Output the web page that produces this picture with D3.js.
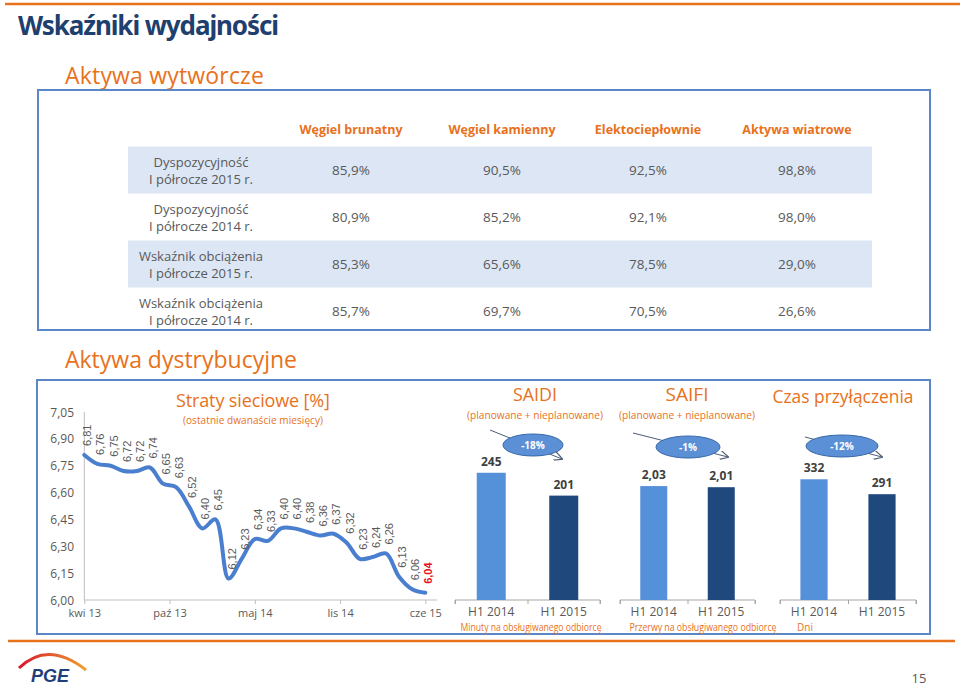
<!DOCTYPE html>
<html><head><meta charset="utf-8">
<script src="https://cdn.jsdelivr.net/npm/d3@7/dist/d3.min.js"></script>
<style>
body{margin:0;background:#fff;}
svg{display:block;font-family:"Open Sans","Noto Sans",sans-serif;}
</style></head>
<body>
<svg id="c" width="960" height="688"></svg>
<script>
// ---------- data ----------
const tableColumns = ["Węgiel brunatny","Węgiel kamienny","Elektociepłownie","Aktywa wiatrowe"];
const tableRowLabels = [
  ["Dyspozycyjność","I półrocze 2015 r."],
  ["Dyspozycyjność","I półrocze 2014 r."],
  ["Wskaźnik obciążenia","I półrocze 2015 r."],
  ["Wskaźnik obciążenia","I półrocze 2014 r."]
];
const availability2015 = ["85,9%","90,5%","92,5%","98,8%"];
const availability2014 = ["80,9%","85,2%","92,1%","98,0%"];
const loadFactor2015   = ["85,3%","65,6%","78,5%","29,0%"];
const loadFactor2014   = ["85,7%","69,7%","70,5%","26,6%"];

const lossValues = [6.81,6.76,6.75,6.72,6.72,6.74,6.65,6.63,6.52,6.40,6.45,6.12,6.23,6.34,6.33,6.40,6.40,6.38,6.36,6.37,6.32,6.23,6.24,6.26,6.13,6.06,6.04];
const lossTickIndex = [0,6.5,13,19.5,26];
const lossTickLabels = ["kwi 13","paź 13","maj 14","lis 14","cze 15"];
const lossYTicks = [6.00,6.15,6.30,6.45,6.60,6.75,6.90,7.05];

const periods = ["H1 2014","H1 2015"];
const saidiValues = [245,201];
const saifiValues = [2.03,2.01];
const czasValues = [332,291];
const changes = ["-18%","-1%","-12%"];

// ---------- helpers ----------
const svg = d3.select("#c");
const ORANGE = "#e8711c", BLUE_T = "#1f3f6e", GREY = "#595959", FRAME = "#5b87c6";
const fmt = v => d3.format(".2f")(v).replace(".", ",");

svg.append("line").attr("x1",5).attr("x2",960).attr("y1",4).attr("y2",4).attr("stroke",ORANGE).attr("stroke-width",2.5);
svg.append("line").attr("x1",8).attr("x2",955).attr("y1",641).attr("y2",641).attr("stroke",ORANGE).attr("stroke-width",2.5);

svg.append("text").attr("x",18).attr("y",35).text("Wskaźniki wydajności")
  .attr("font-size",26).attr("font-weight",700).attr("fill",BLUE_T).attr("font-family","'Noto Sans',sans-serif").attr("textLength",261);
svg.append("text").attr("x",65).attr("y",84).text("Aktywa wytwórcze").attr("font-size",23).attr("fill",ORANGE).attr("textLength",199);
svg.append("text").attr("x",65).attr("y",368).text("Aktywa dystrybucyjne").attr("font-size",23).attr("fill",ORANGE).attr("textLength",232);

// ---------- table ----------
svg.append("rect").attr("x",38).attr("y",90).attr("width",892).attr("height",240).attr("fill","none").attr("stroke",FRAME).attr("stroke-width",2);
const colX = [351,502,648,797];
const rowY = [170,217,264,311];
const rowData = [availability2015, availability2014, loadFactor2015, loadFactor2014];
svg.selectAll(".hdr").data(tableColumns).join("text")
  .attr("x",(d,i)=>colX[i]).attr("y",134).attr("text-anchor","middle")
  .attr("font-size",12.5).attr("font-weight",700).attr("fill",ORANGE).text(d=>d);
rowData.forEach((vals,r)=>{
  if(r%2===0) svg.append("rect").attr("x",128).attr("y",rowY[r]-23.5).attr("width",744).attr("height",47).attr("fill","#dce6f4");
  const lab = svg.append("text").attr("text-anchor","middle").attr("font-size",13).attr("fill",GREY);
  lab.append("tspan").attr("x",201).attr("y",rowY[r]-3).text(tableRowLabels[r][0]);
  lab.append("tspan").attr("x",201).attr("y",rowY[r]+14).text(tableRowLabels[r][1]);
  svg.selectAll(null).data(vals).join("text")
    .attr("x",(d,i)=>colX[i]).attr("y",rowY[r]+5).attr("text-anchor","middle")
    .attr("font-size",13.5).attr("fill",GREY).text(d=>d);
});

// ---------- distribution panel ----------
svg.append("rect").attr("x",37).attr("y",380).attr("width",893).attr("height",254).attr("fill","none").attr("stroke",FRAME).attr("stroke-width",2);

const x = d3.scaleLinear().domain([0,26]).range([84.3,425.3]);
const y = d3.scaleLinear().domain([6.0,7.05]).range([600,412]);
const gL = svg.append("g");
gL.append("line").attr("x1",84.3).attr("x2",84.3).attr("y1",412).attr("y2",600).attr("stroke","#bfbfbf");
gL.append("g").attr("transform","translate(0,600)")
  .call(d3.axisBottom(x).tickValues(lossTickIndex).tickFormat((d,i)=>lossTickLabels[i]).tickSize(4).tickSizeOuter(0))
  .call(g=>{g.select(".domain").attr("stroke","#bfbfbf").attr("d","M84.3,0H437");
    g.selectAll(".tick line").attr("stroke","#bfbfbf");
    g.selectAll(".tick text").attr("font-size",11).attr("fill",GREY).attr("y",9).attr("dy","0.71em").attr("font-family","'Open Sans',sans-serif");});
gL.selectAll(".yl").data(lossYTicks).join("text")
  .attr("x",74).attr("y",d=>y(d)+4.5).attr("text-anchor","end").attr("font-size",12).attr("fill",GREY).text(fmt);
gL.append("path").datum(lossValues)
  .attr("d",d3.line().x((d,i)=>x(i)).y(d=>y(d)).curve(d3.curveCatmullRom.alpha(0.5)))
  .attr("fill","none").attr("stroke","#4a7fcf").attr("stroke-width",4).attr("stroke-linecap","round");
gL.selectAll(".dl").data(lossValues).join("text")
  .attr("transform",(d,i)=>`translate(${x(i)+7},${y(d)-9}) rotate(-90)`)
  .attr("font-size",11).attr("fill",(d,i)=>i===lossValues.length-1?"#e8101e":GREY)
  .attr("font-weight",(d,i)=>i===lossValues.length-1?700:400)
  .attr("font-family","'Liberation Sans',Arial,sans-serif").text(fmt);
svg.append("text").attr("x",176).attr("y",407).text("Straty sieciowe [%]").attr("font-size",18).attr("fill",ORANGE).attr("textLength",154);
svg.append("text").attr("x",183).attr("y",424).text("(ostatnie dwanaście miesięcy)").attr("font-size",10).attr("fill",ORANGE).attr("textLength",140);

svg.append("defs").append("marker").attr("id","arr").attr("viewBox","0 0 10 10").attr("refX",9).attr("refY",5)
  .attr("markerWidth",9).attr("markerHeight",9).attr("orient","auto")
  .append("path").attr("d","M0,0L10,5L0,10").attr("fill","none").attr("stroke","#4d5d73").attr("stroke-width",1.3);

function barChart(cfg){
  const g = svg.append("g");
  const bx = d3.scaleBand().domain(periods).range([cfg.x0,cfg.x1]).paddingInner(0.6).paddingOuter(0.3);
  const by = d3.scaleLinear().domain([0,cfg.max]).range([600,412]);
  g.append("g").attr("transform","translate(0,600)")
    .call(d3.axisBottom(d3.scaleLinear().domain([0,2]).range([cfg.x0,cfg.x1])).ticks(2).tickSize(4).tickFormat(""))
    .call(a=>{a.select(".domain").attr("stroke","#a6a6a6").attr("d",`M${cfg.x0},4V0H${cfg.x1}V4`);a.selectAll(".tick line").attr("stroke","#a6a6a6");});
  g.selectAll("rect").data(cfg.values).join("rect")
    .attr("x",(d,i)=>bx(periods[i])).attr("width",bx.bandwidth())
    .attr("y",d=>by(d)).attr("height",d=>600-by(d))
    .attr("fill",(d,i)=>i===0?"#5591d8":"#1f497d");
  g.selectAll(".v").data(cfg.values).join("text")
    .attr("x",(d,i)=>bx(periods[i])+bx.bandwidth()/2).attr("y",d=>by(d)-7)
    .attr("text-anchor","middle").attr("font-size",12).attr("font-weight",700).attr("fill","#404040")
    .text(cfg.fmt);
  g.selectAll(".p").data(periods).join("text")
    .attr("x",d=>bx(d)+bx.bandwidth()/2).attr("y",616).attr("text-anchor","middle")
    .attr("font-size",12).attr("fill",GREY).text(d=>d);
  g.append("line").attr("x1",cfg.a[0]).attr("y1",cfg.a[1]).attr("x2",cfg.a[2]).attr("y2",cfg.a[3])
    .attr("stroke","#4d5d73").attr("stroke-width",1).attr("marker-end","url(#arr)");
  g.append("ellipse").attr("cx",cfg.e[0]).attr("cy",cfg.e[1]).attr("rx",cfg.e[2]).attr("ry",11)
    .attr("fill","#5b8fd6").attr("stroke","#3a69a8").attr("stroke-width",1);
  g.append("text").attr("x",cfg.e[0]).attr("y",cfg.e[1]+4).attr("text-anchor","middle")
    .attr("font-size",10).attr("font-weight",700).attr("fill","#fff").text(cfg.change);
  g.append("text").attr("x",cfg.tx).attr("y",cfg.sub?401:403).attr("text-anchor","middle").attr("font-size",cfg.tfs).attr("fill",ORANGE)
    .attr("textLength",cfg.tl).attr("lengthAdjust","spacingAndGlyphs").text(cfg.title);
  if(cfg.sub) g.append("text").attr("x",cfg.tx).attr("y",419).attr("text-anchor","middle").attr("font-size",10).attr("fill",ORANGE)
    .attr("textLength",136).attr("lengthAdjust","spacingAndGlyphs").text(cfg.sub);
  const u = g.append("text").attr("x",cfg.ux).attr("y",631).attr("text-anchor",cfg.uanchor).attr("font-size",10).attr("fill",ORANGE).text(cfg.unit);
  if(cfg.ul) u.attr("textLength",cfg.ul).attr("lengthAdjust","spacingAndGlyphs");
}
barChart({x0:455,x1:600,max:362,values:saidiValues,fmt:d=>d,change:changes[0],
  a:[490,430,562,459],e:[533,445,30],title:"SAIDI",sub:"(planowane + nieplanowane)",tx:535,tfs:19,tl:44,
  unit:"Minuty na obsługiwanego odbiorcę",ux:531,uanchor:"middle",ul:141});
barChart({x0:620,x1:755,max:3.35,values:saifiValues,fmt:d=>d3.format(".2f")(d).replace(".",","),change:changes[1],
  a:[633,433,728,457],e:[688,447,32],title:"SAIFI",sub:"(planowane + nieplanowane)",tx:687,tfs:19,tl:43,
  unit:"Przerwy na obsługiwanego odbiorcę",ux:703,uanchor:"middle",ul:147});
barChart({x0:780,x1:916,max:517,values:czasValues,fmt:d=>d,change:changes[2],
  a:[805,437,882,457],e:[842,446,36],title:"Czas przyłączenia",sub:null,tx:843,tfs:19,tl:141,
  unit:"Dni",ux:797,uanchor:"start",ul:null});

// ---------- footer ----------
const lg = svg.append("defs").append("linearGradient").attr("id","lg").attr("x1","0").attr("x2","1");
lg.append("stop").attr("offset","0").attr("stop-color","#d9152b");
lg.append("stop").attr("offset","1").attr("stop-color","#f0a030");
svg.append("path").attr("d","M19,668 Q48,640 86,670").attr("fill","none").attr("stroke","url(#lg)").attr("stroke-width",3);
svg.append("text").attr("x",31).attr("y",682).text("PGE").attr("font-size",18).attr("font-weight",700)
  .attr("font-style","italic").attr("fill","#1f3f7a").attr("font-family","'Liberation Sans',sans-serif");
svg.append("text").attr("x",919).attr("y",683).attr("text-anchor","middle").text("15").attr("font-size",13).attr("fill",GREY);
</script>
</body></html>
